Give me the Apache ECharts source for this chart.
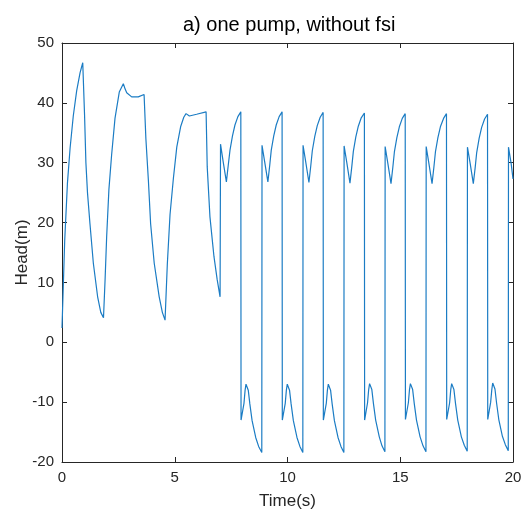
<!DOCTYPE html>
<html>
<head>
<meta charset="utf-8">
<script src="https://cdn.jsdelivr.net/npm/echarts@6/dist/echarts.min.js"></script>
<style>
html,body{margin:0;padding:0;background:#fff;}
#chart{width:523px;height:516px;}
</style>
</head>
<body>
<div id="chart"></div>
<script>
// Time (s) values
var timeValues = [
  0.00, 0.12, 0.24, 0.36, 0.50, 0.65, 0.80, 0.92,
  1.00, 1.06, 1.13, 1.24, 1.39, 1.58, 1.72, 1.84,
  1.91, 1.98, 2.08, 2.20, 2.35, 2.54, 2.72,
  2.80, 2.87, 3.09, 3.38, 3.64,
  3.72, 3.83, 3.93, 4.09, 4.31, 4.45, 4.57,
  4.67, 4.79, 4.94, 5.09, 5.26, 5.40, 5.50, 5.65, 5.97, 6.39,
  6.44, 6.56, 6.74, 6.88, 7.01,
  7.03, 7.15, 7.29, 7.37, 7.45, 7.56, 7.67, 7.80, 7.93,
  7.94, 8.07, 8.12, 8.16, 8.21, 8.26, 8.33, 8.43, 8.59, 8.72, 8.86,
  8.87, 8.99, 9.13, 9.21, 9.28, 9.39, 9.50, 9.63, 9.76,
  9.77, 9.90, 9.95, 9.99, 10.04, 10.09, 10.16, 10.26, 10.42, 10.55, 10.68,
  10.69, 10.81, 10.95, 11.03, 11.10, 11.21, 11.32, 11.45, 11.58,
  11.59, 11.72, 11.77, 11.81, 11.86, 11.91, 11.98, 12.08, 12.24, 12.37, 12.50,
  12.51, 12.63, 12.77, 12.85, 12.92, 13.03, 13.14, 13.27, 13.41,
  13.42, 13.55, 13.60, 13.64, 13.69, 13.74, 13.81, 13.91, 14.07, 14.19, 14.32,
  14.33, 14.45, 14.59, 14.67, 14.74, 14.85, 14.96, 15.09, 15.22,
  15.23, 15.36, 15.41, 15.45, 15.50, 15.55, 15.62, 15.72, 15.88, 16.01, 16.14,
  16.15, 16.27, 16.41, 16.49, 16.56, 16.67, 16.78, 16.92, 17.05,
  17.06, 17.19, 17.24, 17.28, 17.33, 17.38, 17.45, 17.55, 17.71, 17.84, 17.97,
  17.98, 18.10, 18.24, 18.32, 18.39, 18.50, 18.61, 18.74, 18.87,
  18.88, 19.01, 19.06, 19.10, 19.15, 19.20, 19.27, 19.37, 19.53, 19.66, 19.79,
  19.80, 19.92, 20.00
];
// Head (m) values
var headValues = [
  2.4, 17.0, 26.5, 32.5, 37.8, 42.0, 45.0, 46.7,
  38.0, 30.0, 25.0, 19.8, 13.2, 7.6, 5.0, 4.1,
  10.4, 17.6, 25.5, 31.3, 37.4, 41.8, 43.2,
  42.3, 41.7, 41.0, 41.0, 41.4,
  34.0, 27.1, 19.8, 13.2, 7.6, 5.0, 3.7,
  13.0, 21.3, 27.4, 32.6, 36.0, 37.6, 38.2, 37.8, 38.1, 38.5,
  29.3, 21.0, 14.3, 10.5, 7.6,
  33.1, 30.1, 26.8, 29.5, 32.1, 34.5, 36.3, 37.7, 38.5,
  -13.0, -10.2, -8.0, -7.0, -6.7, -8.0, -10.3, -13.1, -15.9, -17.4, -18.4,
  32.9, 30.1, 26.8, 29.5, 32.1, 34.5, 36.3, 37.7, 38.5,
  -13.0, -10.2, -8.0, -7.0, -6.7, -8.0, -10.3, -13.1, -15.9, -17.4, -18.4,
  32.9, 30.1, 26.7, 29.4, 32.0, 34.4, 36.2, 37.6, 38.4,
  -13.0, -10.2, -8.0, -7.0, -6.7, -8.0, -10.3, -13.1, -15.9, -17.4, -18.4,
  32.8, 30.0, 26.6, 29.3, 31.9, 34.3, 36.1, 37.5, 38.3,
  -13.0, -10.1, -7.9, -6.9, -6.6, -7.9, -10.2, -13.0, -15.8, -17.3, -18.3,
  32.7, 29.9, 26.5, 29.2, 31.8, 34.2, 36.0, 37.4, 38.2,
  -12.9, -10.1, -7.9, -6.9, -6.6, -7.9, -10.2, -13.0, -15.8, -17.3, -18.3,
  32.7, 29.9, 26.5, 29.2, 31.8, 34.2, 36.0, 37.4, 38.2,
  -12.9, -10.1, -7.9, -6.9, -6.6, -7.9, -10.2, -13.0, -15.8, -17.2, -18.2,
  32.6, 29.9, 26.5, 29.1, 31.7, 34.1, 35.9, 37.3, 38.1,
  -12.9, -10.0, -7.9, -6.8, -6.5, -7.8, -10.1, -12.9, -15.7, -17.1, -18.1,
  32.6, 29.8, 27.3
];
var xTicks = {min: 0, max: 20, interval: 5};
var yTicks = {min: -20, max: 50, interval: 10};

var seriesData = timeValues.map(function (t, i) { return [t, headValues[i]]; });

var FONT = "'Liberation Sans', Arial, Helvetica, sans-serif";
var AX = '#262626';

function axisCommon(extra) {
  var base = {
    type: 'value',
    axisLine: {show: true, onZero: false, lineStyle: {color: AX, width: 1}},
    axisTick: {show: true, inside: true, length: 5, lineStyle: {color: AX, width: 1}},
    splitLine: {show: false},
    axisLabel: {show: true, color: AX, fontSize: 15, fontFamily: FONT, margin: 8}
  };
  for (var k in extra) base[k] = extra[k];
  return base;
}

var chart = echarts.init(document.getElementById('chart'), null, {renderer: 'canvas'});
chart.setOption({
  animation: false,
  backgroundColor: '#ffffff',
  title: {
    text: 'a) one pump, without fsi',
    left: 178,
    top: 10,
    textStyle: {fontFamily: FONT, fontSize: 20, fontWeight: 'normal', color: '#000000'}
  },
  grid: {left: 62, top: 43, width: 451, height: 419, containLabel: false, outerBoundsMode: 'none'},
  xAxis: [
    axisCommon({min: xTicks.min, max: xTicks.max, interval: xTicks.interval, position: 'bottom',
      name: 'Time(s)', nameLocation: 'middle', nameGap: 31, nameMoveOverlap: false,
      nameTextStyle: {fontFamily: FONT, fontSize: 17, color: AX}}),
    axisCommon({min: xTicks.min, max: xTicks.max, interval: xTicks.interval, position: 'top',
      axisLabel: {show: false}})
  ],
  yAxis: [
    axisCommon({min: yTicks.min, max: yTicks.max, interval: yTicks.interval, position: 'left',
      name: 'Head(m)', nameLocation: 'middle', nameGap: 31, nameMoveOverlap: false,
      nameTextStyle: {fontFamily: FONT, fontSize: 17, color: AX}}),
    axisCommon({min: yTicks.min, max: yTicks.max, interval: yTicks.interval, position: 'right',
      axisLabel: {show: false}})
  ],
  series: [{
    type: 'line',
    xAxisIndex: 0,
    yAxisIndex: 0,
    data: seriesData,
    showSymbol: false,
    symbol: 'none',
    lineStyle: {color: '#1b7cc4', width: 1.2},
    clip: true
  }]
});
</script>
</body>
</html>
